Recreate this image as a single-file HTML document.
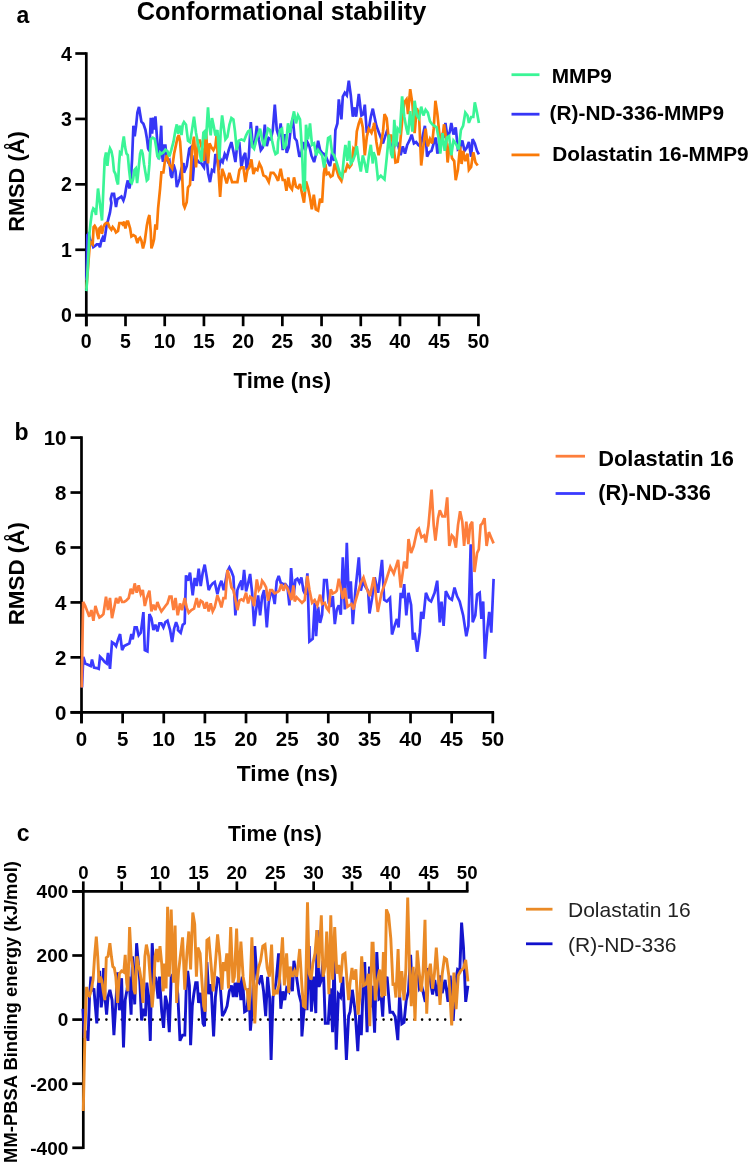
<!DOCTYPE html>
<html><head><meta charset="utf-8"><style>html,body{margin:0;padding:0;background:#fff;width:749px;height:1165px;overflow:hidden}svg{display:block;will-change:transform}</style></head>
<body><svg width="749" height="1165" viewBox="0 0 749 1165"><text x="16.5" y="22.5" font-family="Liberation Sans, sans-serif" font-weight="bold" font-size="23" text-anchor="start" >a</text><text x="281.6" y="20" font-family="Liberation Sans, sans-serif" font-weight="bold" font-size="25.3" text-anchor="middle" >Conformational stability</text><line x1="86.3" y1="52.2" x2="86.3" y2="326.2" stroke="#000" stroke-width="2.7"/><line x1="75.3" y1="315.2" x2="479.7" y2="315.2" stroke="#000" stroke-width="2.7"/><line x1="75.3" y1="315.2" x2="86.3" y2="315.2" stroke="#000" stroke-width="2.7"/><text x="71.8" y="322.2" font-family="Liberation Sans, sans-serif" font-weight="bold" font-size="19.5" text-anchor="end" >0</text><line x1="75.3" y1="249.77499999999998" x2="86.3" y2="249.77499999999998" stroke="#000" stroke-width="2.7"/><text x="71.8" y="256.775" font-family="Liberation Sans, sans-serif" font-weight="bold" font-size="19.5" text-anchor="end" >1</text><line x1="75.3" y1="184.35" x2="86.3" y2="184.35" stroke="#000" stroke-width="2.7"/><text x="71.8" y="191.35" font-family="Liberation Sans, sans-serif" font-weight="bold" font-size="19.5" text-anchor="end" >2</text><line x1="75.3" y1="118.92500000000001" x2="86.3" y2="118.92500000000001" stroke="#000" stroke-width="2.7"/><text x="71.8" y="125.92500000000001" font-family="Liberation Sans, sans-serif" font-weight="bold" font-size="19.5" text-anchor="end" >3</text><line x1="75.3" y1="53.5" x2="86.3" y2="53.5" stroke="#000" stroke-width="2.7"/><text x="71.8" y="60.5" font-family="Liberation Sans, sans-serif" font-weight="bold" font-size="19.5" text-anchor="end" >4</text><line x1="86.3" y1="315.2" x2="86.3" y2="326.2" stroke="#000" stroke-width="2.7"/><text x="86.3" y="347.8" font-family="Liberation Sans, sans-serif" font-weight="bold" font-size="19.5" text-anchor="middle" >0</text><line x1="125.50999999999999" y1="315.2" x2="125.50999999999999" y2="326.2" stroke="#000" stroke-width="2.7"/><text x="125.50999999999999" y="347.8" font-family="Liberation Sans, sans-serif" font-weight="bold" font-size="19.5" text-anchor="middle" >5</text><line x1="164.71999999999997" y1="315.2" x2="164.71999999999997" y2="326.2" stroke="#000" stroke-width="2.7"/><text x="164.71999999999997" y="347.8" font-family="Liberation Sans, sans-serif" font-weight="bold" font-size="19.5" text-anchor="middle" >10</text><line x1="203.92999999999998" y1="315.2" x2="203.92999999999998" y2="326.2" stroke="#000" stroke-width="2.7"/><text x="203.92999999999998" y="347.8" font-family="Liberation Sans, sans-serif" font-weight="bold" font-size="19.5" text-anchor="middle" >15</text><line x1="243.14" y1="315.2" x2="243.14" y2="326.2" stroke="#000" stroke-width="2.7"/><text x="243.14" y="347.8" font-family="Liberation Sans, sans-serif" font-weight="bold" font-size="19.5" text-anchor="middle" >20</text><line x1="282.35" y1="315.2" x2="282.35" y2="326.2" stroke="#000" stroke-width="2.7"/><text x="282.35" y="347.8" font-family="Liberation Sans, sans-serif" font-weight="bold" font-size="19.5" text-anchor="middle" >25</text><line x1="321.55999999999995" y1="315.2" x2="321.55999999999995" y2="326.2" stroke="#000" stroke-width="2.7"/><text x="321.55999999999995" y="347.8" font-family="Liberation Sans, sans-serif" font-weight="bold" font-size="19.5" text-anchor="middle" >30</text><line x1="360.77" y1="315.2" x2="360.77" y2="326.2" stroke="#000" stroke-width="2.7"/><text x="360.77" y="347.8" font-family="Liberation Sans, sans-serif" font-weight="bold" font-size="19.5" text-anchor="middle" >35</text><line x1="399.97999999999996" y1="315.2" x2="399.97999999999996" y2="326.2" stroke="#000" stroke-width="2.7"/><text x="399.97999999999996" y="347.8" font-family="Liberation Sans, sans-serif" font-weight="bold" font-size="19.5" text-anchor="middle" >40</text><line x1="439.19" y1="315.2" x2="439.19" y2="326.2" stroke="#000" stroke-width="2.7"/><text x="439.19" y="347.8" font-family="Liberation Sans, sans-serif" font-weight="bold" font-size="19.5" text-anchor="middle" >45</text><line x1="478.40000000000003" y1="315.2" x2="478.40000000000003" y2="326.2" stroke="#000" stroke-width="2.7"/><text x="478.40000000000003" y="347.8" font-family="Liberation Sans, sans-serif" font-weight="bold" font-size="19.5" text-anchor="middle" >50</text><text x="282.3" y="388" font-family="Liberation Sans, sans-serif" font-weight="bold" font-size="22" text-anchor="middle" >Time (ns)</text><polyline points="86.4,280.4 87.3,235.1 88.7,233.7 90.0,239.1 92.0,243.1 93.3,247.1 95.3,245.7 96.7,244.4 98.7,244.4 100.0,247.1 101.4,240.4 102.7,237.7 104.0,241.7 105.4,233.7 106.7,224.4 108.0,220.4 110.0,212.4 111.4,203.0 110.7,199.1 112.0,193.8 114.0,193.8 116.0,207.1 117.4,199.1 119.4,197.8 121.4,196.5 123.4,200.5 124.7,196.5 126.5,185.8 127.8,180.4 129.4,188.5 130.7,181.8 132.1,159.1 133.4,125.7 134.7,136.4 136.1,125.7 137.4,112.4 139.0,107.0 140.1,113.7 141.4,121.7 143.4,123.7 145.4,129.7 146.8,137.7 148.1,148.4 149.4,151.1 150.8,117.7 152.1,133.7 153.4,117.7 154.8,129.7 155.4,116.4 156.8,135.1 158.1,155.1 159.0,159.1 160.1,144.4 161.2,125.7 162.1,155.1 163.0,161.8 164.1,145.7 165.4,145.7 166.8,159.1 168.1,161.8 169.4,160.4 170.8,175.1 172.1,177.8 173.5,164.4 175.5,171.1 176.8,187.1 178.1,183.1 179.5,179.1 181.5,168.4 183.5,163.1 184.0,172.8 186.7,166.1 189.3,148.7 190.7,147.4 192.7,180.8 194.7,155.4 196.7,159.4 198.7,162.1 201.4,163.4 204.0,167.4 206.0,150.1 208.0,172.8 210.0,182.1 212.0,170.1 214.0,171.4 215.4,154.1 216.7,156.8 218.7,170.1 220.7,159.4 222.7,162.1 224.7,154.1 226.7,158.1 228.7,150.1 231.4,142.1 233.4,151.4 235.4,162.1 237.4,143.4 239.4,143.4 241.4,167.4 243.4,156.8 245.2,152.8 246.8,170.1 248.8,156.8 250.8,122.0 252.8,146.1 254.8,144.7 256.8,126.0 258.8,139.4 260.8,150.1 262.8,147.4 264.8,124.7 266.8,146.1 268.8,138.1 270.8,139.4 272.8,130.1 274.8,104.7 276.8,130.1 278.8,136.7 280.7,123.4 282.7,150.1 284.7,134.1 286.7,152.8 288.7,147.4 290.7,128.7 292.7,118.1 294.7,138.1 296.7,140.8 299.4,156.8 301.4,152.8 303.4,142.1 305.4,150.1 307.4,142.1 309.4,146.1 311.4,155.4 314.1,162.1 316.1,154.1 318.1,140.8 320.1,150.1 322.1,152.8 324.1,154.1 326.1,156.8 328.1,162.1 330.1,166.1 332.1,152.8 334.1,160.8 335.4,130.1 337.4,123.4 338.8,99.4 340.1,110.1 341.4,119.4 342.8,96.7 344.8,92.7 346.8,95.4 348.8,80.7 350.8,95.4 352.8,116.7 354.8,107.4 356.1,116.7 358.8,94.0 361.4,115.4 363.4,114.1 364.8,104.7 366.8,132.8 368.8,128.7 370.8,116.7 372.8,108.7 374.2,115.5 376.4,125.8 378.6,131.7 380.8,137.6 383.0,143.4 385.2,136.1 386.7,131.7 388.9,136.1 391.1,146.4 393.3,152.2 395.5,139.0 397.7,143.4 400.6,155.2 402.8,146.4 405.0,153.7 407.2,144.9 409.5,140.5 411.7,134.6 413.9,143.4 416.1,142.0 418.3,144.9 420.5,146.4 422.7,136.1 424.9,125.8 427.1,156.7 429.3,152.2 431.5,150.8 433.7,143.4 435.9,137.6 437.4,153.7 439.6,142.0 441.8,134.6 444.0,136.1 445.4,122.9 447.6,137.6 449.8,131.7 451.3,122.9 453.5,134.6 455.7,127.3 457.9,149.3 460.1,147.8 462.3,140.5 464.5,150.8 466.7,147.8 468.9,142.0 471.1,156.7 472.6,139.0 474.8,143.4 477.0,150.8 478.9,154.4" fill="none" stroke="#3636f6" stroke-width="2.7" stroke-linejoin="miter" stroke-miterlimit="3"/><polyline points="86.4,288.5 90.0,241.7 91.3,243.1 92.7,244.4 93.6,227.0 94.7,225.7 96.3,228.4 97.4,235.1 98.4,239.1 99.4,228.4 100.7,227.0 102.0,233.7 103.4,227.0 104.7,224.4 106.0,223.0 108.0,223.0 109.4,227.0 111.4,229.7 112.7,227.0 114.7,229.7 116.0,232.4 118.0,231.0 119.4,223.0 121.4,223.0 122.7,224.4 124.1,221.7 125.4,228.4 127.0,221.7 128.1,221.7 130.1,228.4 131.4,236.4 133.4,235.1 135.4,236.4 137.4,243.1 138.7,239.1 140.1,237.7 141.4,240.4 143.0,248.4 144.7,241.7 146.8,225.7 148.1,219.0 149.4,215.0 150.8,232.4 151.4,248.4 152.8,244.4 154.1,239.1 155.4,224.4 156.8,229.7 158.1,208.4 160.1,188.5 161.4,172.4 163.4,172.4 164.8,161.8 166.8,155.1 169.4,164.4 172.1,168.4 174.1,153.7 176.1,144.4 177.5,137.7 178.8,135.1 180.1,141.7 181.5,161.8 183.5,204.5 184.7,207.5 186.7,202.1 188.0,187.5 190.0,184.8 192.0,150.1 194.0,136.7 196.0,167.4 198.0,140.7 200.0,140.7 202.0,148.7 204.0,160.8 206.0,130.1 208.0,163.4 209.6,143.4 211.4,147.4 213.4,150.1 215.4,146.1 216.7,134.1 218.1,164.8 220.1,196.8 222.1,168.8 224.1,174.1 226.7,183.5 229.4,172.8 232.1,182.1 234.7,182.1 237.4,182.1 239.4,170.1 241.4,167.4 243.4,167.4 245.4,182.1 247.4,170.1 249.4,167.4 251.4,159.4 253.4,174.1 255.4,168.8 257.4,170.1 259.4,163.4 261.4,167.4 263.4,175.4 266.1,176.8 268.8,182.1 270.8,172.8 273.5,172.8 275.5,175.4 278.1,180.8 280.7,168.7 282.7,180.0 284.7,180.0 286.4,190.7 288.3,177.4 290.0,186.7 292.0,189.4 294.0,177.4 296.0,186.7 298.0,188.0 300.0,184.0 302.0,193.4 304.0,202.7 306.0,181.4 308.0,188.0 310.0,197.4 311.8,209.4 313.8,194.7 315.8,209.4 318.1,210.7 320.1,198.7 322.1,202.7 323.8,173.4 325.4,164.0 326.7,174.1 328.7,172.8 330.7,176.8 332.7,175.5 334.7,163.5 336.7,170.1 338.8,176.8 341.4,180.8 343.4,171.5 345.4,171.5 347.4,164.8 349.4,167.5 351.4,164.8 353.4,148.8 355.4,151.4 356.8,131.4 358.8,123.4 360.8,118.1 362.8,127.4 364.8,155.4 366.8,136.8 368.8,128.7 371.5,132.8 373.5,126.1 374.2,122.9 376.4,142.0 378.6,155.2 380.8,144.9 383.0,131.7 384.5,114.1 386.7,118.5 388.9,142.0 391.1,134.6 393.3,144.9 395.5,162.5 397.7,161.8 399.9,146.4 402.1,121.4 404.3,102.3 406.5,99.4 408.0,114.1 410.2,89.1 412.4,103.8 414.6,133.2 416.8,108.2 419.0,114.1 421.2,165.5 423.4,146.4 425.6,128.7 427.8,146.4 430.0,139.0 432.2,143.4 433.7,128.7 435.4,100.8 437.4,114.1 439.6,136.1 441.8,143.4 444.0,124.3 446.2,139.0 447.6,162.5 449.8,143.4 452.0,158.1 454.2,161.1 455.7,180.1 457.9,169.9 460.1,146.4 461.6,164.0 463.1,150.8 465.3,161.1 467.5,153.7 468.9,169.9 471.1,166.9 473.3,152.2 475.5,162.5 477.7,165.5" fill="none" stroke="#fa7a08" stroke-width="2.7" stroke-linejoin="miter" stroke-miterlimit="3"/><polyline points="86.4,291.1 88.0,264.4 89.3,235.1 90.7,221.7 92.0,212.4 93.3,208.4 94.7,209.7 96.0,215.0 97.4,196.5 98.0,188.5 99.4,199.1 100.7,209.8 102.0,220.5 103.4,188.5 104.7,159.1 106.0,152.4 107.4,165.8 108.7,153.7 110.0,148.4 111.4,151.1 112.7,157.8 114.0,171.1 115.4,173.8 116.7,180.4 118.0,184.5 119.0,164.4 120.0,152.4 121.4,153.7 122.7,143.1 123.8,136.4 125.1,147.1 126.5,153.7 127.8,155.1 129.1,169.8 130.5,181.8 131.8,183.1 133.1,179.1 134.5,169.8 135.8,168.4 137.1,183.1 138.5,169.8 140.1,153.7 141.4,149.7 142.7,153.7 144.1,164.4 145.4,172.4 146.8,180.4 148.1,179.1 149.4,164.4 150.8,139.1 152.8,137.7 154.8,139.1 156.1,147.1 157.4,156.4 158.8,157.8 160.1,152.4 161.4,153.7 163.4,152.4 165.4,149.7 167.4,151.1 169.4,156.4 171.4,149.7 173.5,141.7 175.5,129.7 176.8,124.4 178.1,133.7 180.1,125.7 181.5,135.1 182.8,124.4 184.0,122.0 186.0,124.7 188.0,140.7 190.0,142.1 192.0,130.1 194.0,116.7 196.0,132.7 198.0,143.4 200.0,154.1 201.4,162.1 203.4,132.7 204.7,131.4 206.0,139.4 208.0,107.4 209.4,126.0 210.7,135.4 212.0,118.0 214.0,127.4 215.4,135.4 217.4,130.1 219.4,159.4 220.7,131.4 222.1,115.4 223.4,124.7 225.4,139.4 227.4,136.7 229.4,124.7 231.4,118.0 233.4,119.4 235.0,131.4 236.7,150.1 238.7,140.7 241.4,139.4 244.1,140.7 246.1,135.4 248.1,131.4 250.1,130.1 252.1,146.1 254.1,148.7 256.1,140.7 258.1,134.1 260.1,128.7 262.1,139.4 264.1,146.1 266.1,136.7 268.1,128.7 270.1,130.1 272.1,140.7 274.1,150.1 275.5,154.1 277.5,152.8 278.0,142.1 280.0,130.1 282.0,128.7 284.0,148.8 286.0,144.8 288.0,123.4 290.0,132.8 292.0,120.7 294.0,111.4 296.0,123.4 298.0,115.4 300.0,119.4 302.0,150.1 303.4,187.5 304.7,191.5 306.0,124.7 308.0,139.4 310.0,123.4 312.0,144.8 314.1,143.4 316.1,155.4 318.1,150.1 320.1,152.8 322.1,155.4 324.1,167.5 326.1,155.4 328.1,138.1 330.1,136.8 332.1,152.8 334.1,155.4 336.1,160.8 338.1,167.5 340.1,174.1 342.1,176.8 344.1,155.4 345.4,144.8 347.4,160.8 349.2,140.8 350.8,163.5 352.8,160.8 354.8,155.4 356.8,146.1 358.8,160.8 360.8,171.5 362.8,155.4 364.8,163.5 366.8,172.8 368.8,156.8 370.8,144.8 372.8,163.5 373.5,152.2 375.7,158.1 377.9,178.7 380.8,175.7 384.5,179.4 386.7,158.1 388.9,134.6 391.1,153.7 392.6,158.1 394.3,119.9 396.2,146.4 397.7,128.7 399.9,131.7 402.1,96.4 404.3,117.0 406.5,128.7 408.0,134.6 410.2,111.1 412.4,131.7 414.6,100.8 416.8,115.5 419.0,118.5 421.2,106.7 423.4,115.5 425.6,109.7 427.8,112.6 430.0,121.4 432.2,124.3 434.4,125.8 436.6,127.3 438.8,139.0 440.3,153.7 442.5,133.2 444.7,150.8 446.9,137.6 449.1,136.1 451.3,155.2 453.5,140.5 455.7,143.4 458.7,149.3 460.9,130.2 463.1,125.8 465.3,112.6 467.5,115.5 468.9,122.9 471.1,117.0 473.3,117.0 474.8,102.3 477.0,112.6 478.9,122.9" fill="none" stroke="#3af596" stroke-width="2.7" stroke-linejoin="miter" stroke-miterlimit="3"/><text x="0" y="0" font-family="Liberation Sans, sans-serif" font-weight="bold" font-size="21.8" text-anchor="middle" transform="translate(24,181.6) rotate(-90)">RMSD (Å)</text><line x1="511.5" y1="74.7" x2="539.5" y2="74.7" stroke="#3af596" stroke-width="2.8"/><text x="551.8" y="83" font-family="Liberation Sans, sans-serif" font-weight="bold" font-size="20.8" text-anchor="start" >MMP9</text><line x1="511.5" y1="114.2" x2="539.5" y2="114.2" stroke="#3636f6" stroke-width="2.8"/><text x="549.6" y="120.3" font-family="Liberation Sans, sans-serif" font-weight="bold" font-size="20.8" text-anchor="start" >(R)-ND-336-MMP9</text><line x1="511.5" y1="154.9" x2="539.5" y2="154.9" stroke="#fa7a08" stroke-width="2.8"/><text x="552.2" y="161" font-family="Liberation Sans, sans-serif" font-weight="bold" font-size="20.8" text-anchor="start" >Dolastatin 16-MMP9</text><text x="14.5" y="440" font-family="Liberation Sans, sans-serif" font-weight="bold" font-size="23" text-anchor="start" >b</text><line x1="81.5" y1="436.3" x2="81.5" y2="723.3" stroke="#000" stroke-width="2.7"/><line x1="70.5" y1="712.3" x2="494.1" y2="712.3" stroke="#000" stroke-width="2.7"/><line x1="70.5" y1="712.3" x2="81.5" y2="712.3" stroke="#000" stroke-width="2.7"/><text x="66.5" y="719.5999999999999" font-family="Liberation Sans, sans-serif" font-weight="bold" font-size="20.5" text-anchor="end" >0</text><line x1="70.5" y1="657.36" x2="81.5" y2="657.36" stroke="#000" stroke-width="2.7"/><text x="66.5" y="664.66" font-family="Liberation Sans, sans-serif" font-weight="bold" font-size="20.5" text-anchor="end" >2</text><line x1="70.5" y1="602.42" x2="81.5" y2="602.42" stroke="#000" stroke-width="2.7"/><text x="66.5" y="609.7199999999999" font-family="Liberation Sans, sans-serif" font-weight="bold" font-size="20.5" text-anchor="end" >4</text><line x1="70.5" y1="547.48" x2="81.5" y2="547.48" stroke="#000" stroke-width="2.7"/><text x="66.5" y="554.78" font-family="Liberation Sans, sans-serif" font-weight="bold" font-size="20.5" text-anchor="end" >6</text><line x1="70.5" y1="492.54" x2="81.5" y2="492.54" stroke="#000" stroke-width="2.7"/><text x="66.5" y="499.84000000000003" font-family="Liberation Sans, sans-serif" font-weight="bold" font-size="20.5" text-anchor="end" >8</text><line x1="70.5" y1="437.6" x2="81.5" y2="437.6" stroke="#000" stroke-width="2.7"/><text x="66.5" y="444.90000000000003" font-family="Liberation Sans, sans-serif" font-weight="bold" font-size="20.5" text-anchor="end" >10</text><line x1="81.5" y1="712.3" x2="81.5" y2="723.3" stroke="#000" stroke-width="2.7"/><text x="81.5" y="746.2" font-family="Liberation Sans, sans-serif" font-weight="bold" font-size="20.5" text-anchor="middle" >0</text><line x1="122.63" y1="712.3" x2="122.63" y2="723.3" stroke="#000" stroke-width="2.7"/><text x="122.63" y="746.2" font-family="Liberation Sans, sans-serif" font-weight="bold" font-size="20.5" text-anchor="middle" >5</text><line x1="163.76" y1="712.3" x2="163.76" y2="723.3" stroke="#000" stroke-width="2.7"/><text x="163.76" y="746.2" font-family="Liberation Sans, sans-serif" font-weight="bold" font-size="20.5" text-anchor="middle" >10</text><line x1="204.89" y1="712.3" x2="204.89" y2="723.3" stroke="#000" stroke-width="2.7"/><text x="204.89" y="746.2" font-family="Liberation Sans, sans-serif" font-weight="bold" font-size="20.5" text-anchor="middle" >15</text><line x1="246.02" y1="712.3" x2="246.02" y2="723.3" stroke="#000" stroke-width="2.7"/><text x="246.02" y="746.2" font-family="Liberation Sans, sans-serif" font-weight="bold" font-size="20.5" text-anchor="middle" >20</text><line x1="287.15" y1="712.3" x2="287.15" y2="723.3" stroke="#000" stroke-width="2.7"/><text x="287.15" y="746.2" font-family="Liberation Sans, sans-serif" font-weight="bold" font-size="20.5" text-anchor="middle" >25</text><line x1="328.28" y1="712.3" x2="328.28" y2="723.3" stroke="#000" stroke-width="2.7"/><text x="328.28" y="746.2" font-family="Liberation Sans, sans-serif" font-weight="bold" font-size="20.5" text-anchor="middle" >30</text><line x1="369.41" y1="712.3" x2="369.41" y2="723.3" stroke="#000" stroke-width="2.7"/><text x="369.41" y="746.2" font-family="Liberation Sans, sans-serif" font-weight="bold" font-size="20.5" text-anchor="middle" >35</text><line x1="410.54" y1="712.3" x2="410.54" y2="723.3" stroke="#000" stroke-width="2.7"/><text x="410.54" y="746.2" font-family="Liberation Sans, sans-serif" font-weight="bold" font-size="20.5" text-anchor="middle" >40</text><line x1="451.67" y1="712.3" x2="451.67" y2="723.3" stroke="#000" stroke-width="2.7"/><text x="451.67" y="746.2" font-family="Liberation Sans, sans-serif" font-weight="bold" font-size="20.5" text-anchor="middle" >45</text><line x1="492.8" y1="712.3" x2="492.8" y2="723.3" stroke="#000" stroke-width="2.7"/><text x="492.8" y="746.2" font-family="Liberation Sans, sans-serif" font-weight="bold" font-size="20.5" text-anchor="middle" >50</text><text x="287.3" y="780.8" font-family="Liberation Sans, sans-serif" font-weight="bold" font-size="22.8" text-anchor="middle" >Time (ns)</text><polyline points="82.0,687.5 83.3,656.8 85.3,663.5 88.0,664.8 90.7,666.1 92.0,659.5 94.0,667.5 96.7,668.1 98.7,668.8 100.0,656.8 102.7,659.5 104.7,662.1 106.7,663.5 108.0,652.8 110.0,668.8 112.0,642.1 114.0,643.4 116.1,646.1 118.1,639.4 120.1,634.1 122.1,650.1 124.1,646.1 126.7,644.8 129.4,643.4 131.4,634.1 132.7,639.4 134.7,627.4 136.7,627.4 138.7,635.4 140.8,632.8 143.4,612.1 144.8,650.1 147.4,651.4 149.4,614.1 151.4,618.1 153.4,630.1 155.4,624.7 157.4,631.4 159.4,623.4 161.4,623.4 163.4,627.4 165.4,622.1 167.5,620.7 170.1,630.1 172.1,642.1 174.1,628.7 176.1,622.1 178.0,627.4 178.0,630.1 180.7,632.8 182.7,624.8 184.7,623.4 186.0,575.4 188.0,580.7 190.0,572.7 192.7,595.4 194.7,578.0 196.7,586.0 198.7,568.7 200.7,586.0 202.7,572.7 204.7,564.7 206.7,576.7 208.7,590.1 210.7,586.0 212.7,583.4 214.7,582.0 217.4,594.1 219.4,586.0 221.4,580.7 223.7,590.1 225.4,582.0 227.4,571.4 229.4,567.4 231.4,571.4 233.4,576.7 235.4,615.4 237.4,590.1 239.4,584.7 241.4,580.7 242.1,590.1 244.1,570.0 246.1,591.4 248.1,583.4 250.1,574.0 252.1,592.7 254.1,626.1 256.1,610.1 258.1,595.4 260.1,615.4 262.1,596.7 264.1,590.1 266.8,627.4 268.8,602.1 270.8,592.7 272.8,594.1 274.7,604.1 276.7,581.4 278.7,576.0 280.7,582.7 283.4,584.1 285.4,584.1 287.4,586.7 289.4,605.4 291.1,568.0 293.4,597.4 295.4,580.1 297.4,578.7 299.4,582.7 301.4,577.4 303.4,590.7 305.4,594.7 307.4,573.4 309.4,641.5 312.7,638.8 314.7,602.8 316.1,636.1 318.1,606.8 320.1,622.8 322.1,614.8 324.1,580.1 326.7,580.1 328.7,602.8 330.7,606.8 332.8,596.1 334.8,624.1 336.8,609.4 338.8,605.4 340.8,614.8 342.8,557.4 344.8,609.4 346.8,542.7 348.8,598.7 350.8,581.4 352.8,624.1 355.4,590.7 358.8,557.4 360.8,590.7 362.8,581.4 365.5,586.7 368.1,590.7 369.5,613.4 369.5,613.6 372.1,598.0 374.7,577.2 378.1,592.8 382.0,559.8 384.2,599.8 386.8,601.5 390.0,598.0 392.0,634.5 394.6,625.8 396.9,618.9 398.6,627.5 400.7,592.8 402.4,598.0 404.2,584.1 406.3,615.4 408.5,592.8 411.1,605.0 412.9,639.7 414.6,632.7 417.2,651.8 419.8,632.7 421.2,611.9 423.3,618.9 425.9,592.8 428.8,599.8 431.1,601.5 434.6,592.8 437.2,580.7 439.8,622.3 441.5,601.5 443.6,625.8 445.8,591.1 449.3,598.0 451.9,599.8 454.5,587.6 457.1,596.3 459.7,601.5 463.2,615.4 466.3,636.2 468.4,625.8 470.7,544.2 472.7,622.3 475.3,615.4 477.1,594.6 479.7,592.8 481.4,618.9 483.2,601.5 484.9,658.8 487.5,627.5 489.2,611.9 491.3,632.7 493.6,578.9" fill="none" stroke="#3a3aff" stroke-width="2.7" stroke-linejoin="miter" stroke-miterlimit="3"/><polyline points="81.7,687.5 83.1,602.0 85.3,606.0 87.3,611.4 89.3,616.7 91.4,610.1 93.4,620.7 95.4,606.0 97.4,612.7 99.4,617.4 101.4,616.1 103.4,614.1 106.0,596.7 108.0,610.1 110.0,598.0 112.0,618.1 114.0,608.7 116.1,598.0 118.1,603.4 120.1,596.7 122.1,602.0 124.1,602.0 126.1,600.7 128.7,598.0 130.7,588.7 132.7,594.0 134.7,583.4 136.7,592.7 138.7,585.4 140.8,594.0 142.8,590.0 144.8,606.0 146.8,598.0 149.4,590.7 151.4,611.4 153.4,604.7 155.4,610.1 157.4,602.0 159.4,607.4 161.4,611.4 163.4,608.7 165.4,606.0 167.5,603.4 169.5,596.7 171.5,596.7 173.5,610.1 175.5,598.0 177.5,614.1 178.0,614.1 180.0,603.4 182.0,610.1 184.7,598.1 186.7,607.4 188.7,612.8 191.4,610.1 194.0,608.7 196.7,598.1 198.7,607.4 200.7,600.7 202.7,602.1 204.7,608.7 206.7,602.1 208.7,611.4 210.7,603.4 212.7,611.4 214.7,607.4 217.4,595.4 219.4,600.7 221.4,607.4 223.4,598.1 225.4,598.1 227.4,570.0 229.4,576.7 231.4,587.4 233.4,590.1 235.4,599.4 237.4,610.1 239.4,600.7 241.4,599.4 243.4,600.7 246.1,592.7 248.1,603.4 250.1,596.7 252.1,598.1 254.1,606.1 256.8,579.4 258.8,590.1 260.8,587.4 262.1,580.7 264.1,583.4 266.1,587.4 268.1,600.7 270.1,590.1 272.1,590.1 274.0,592.7 274.7,593.4 277.3,592.1 279.3,590.7 281.3,584.1 283.4,590.7 285.4,585.4 287.4,588.1 289.4,593.4 291.4,600.1 293.4,585.4 294.7,601.4 296.7,597.4 299.4,600.1 302.0,602.8 304.7,600.1 307.4,576.0 309.4,589.4 312.1,602.8 314.7,600.1 317.4,605.4 320.1,594.7 322.1,604.1 324.7,602.8 326.7,608.1 328.7,610.8 330.7,589.4 332.8,593.4 335.4,592.1 336.8,590.7 338.8,578.7 340.8,588.1 342.8,598.7 344.8,588.1 347.4,606.8 349.4,605.4 351.4,604.1 353.4,609.4 355.4,601.4 358.1,592.1 360.8,582.7 363.5,577.4 365.5,584.1 367.5,590.7 370.0,596.1 373.8,577.2 377.8,611.9 381.6,592.8 386.0,580.7 390.3,566.8 393.8,573.7 398.1,559.8 400.7,587.6 404.2,561.6 406.8,568.5 408.5,539.0 411.1,552.9 413.7,546.0 417.2,530.3 418.9,528.6 421.5,537.3 424.1,535.5 425.9,542.5 428.5,525.1 431.6,489.5 433.7,525.1 435.4,540.7 438.0,518.2 439.8,510.4 442.4,516.4 445.0,516.4 447.2,497.4 449.3,546.0 451.9,535.5 453.7,537.3 455.9,547.7 458.0,525.1 460.1,511.2 462.3,521.7 464.1,546.0 466.3,521.7 468.4,544.2 470.1,525.1 472.2,521.7 474.5,572.0 477.1,552.9 478.8,549.4 480.6,525.1 482.3,523.4 484.5,518.2 486.6,546.0 488.9,532.1 491.0,537.3 493.6,543.4" fill="none" stroke="#fd7e3c" stroke-width="2.7" stroke-linejoin="miter" stroke-miterlimit="3"/><text x="0" y="0" font-family="Liberation Sans, sans-serif" font-weight="bold" font-size="22.4" text-anchor="middle" transform="translate(23.5,573.7) rotate(-90)">RMSD (Å)</text><line x1="555.6" y1="456.2" x2="585" y2="456.2" stroke="#fd7e3c" stroke-width="2.8"/><text x="598.3" y="466.3" font-family="Liberation Sans, sans-serif" font-weight="bold" font-size="21.8" text-anchor="start" >Dolastatin 16</text><line x1="555.6" y1="493.5" x2="585" y2="493.5" stroke="#3a3aff" stroke-width="2.8"/><text x="598.3" y="499.6" font-family="Liberation Sans, sans-serif" font-weight="bold" font-size="21.8" text-anchor="start" >(R)-ND-336</text><text x="16.8" y="840.8" font-family="Liberation Sans, sans-serif" font-weight="bold" font-size="23" text-anchor="start" >c</text><line x1="83.3" y1="1019.6" x2="467.2" y2="1019.6" stroke="#000" stroke-width="2.6" stroke-linecap="round" stroke-dasharray="0 7.7"/><line x1="83.3" y1="890.1" x2="83.3" y2="1149.1" stroke="#000" stroke-width="2.7"/><line x1="72.3" y1="891.4" x2="468.5" y2="891.4" stroke="#000" stroke-width="2.7"/><line x1="72.3" y1="891.4" x2="83.3" y2="891.4" stroke="#000" stroke-width="2.7"/><text x="68.3" y="898.1999999999999" font-family="Liberation Sans, sans-serif" font-weight="bold" font-size="19" text-anchor="end" >400</text><line x1="72.3" y1="955.5" x2="83.3" y2="955.5" stroke="#000" stroke-width="2.7"/><text x="68.3" y="962.3" font-family="Liberation Sans, sans-serif" font-weight="bold" font-size="19" text-anchor="end" >200</text><line x1="72.3" y1="1019.6" x2="83.3" y2="1019.6" stroke="#000" stroke-width="2.7"/><text x="68.3" y="1026.4" font-family="Liberation Sans, sans-serif" font-weight="bold" font-size="19" text-anchor="end" >0</text><line x1="72.3" y1="1083.7" x2="83.3" y2="1083.7" stroke="#000" stroke-width="2.7"/><text x="68.3" y="1090.5" font-family="Liberation Sans, sans-serif" font-weight="bold" font-size="19" text-anchor="end" >-200</text><line x1="72.3" y1="1147.8000000000002" x2="83.3" y2="1147.8000000000002" stroke="#000" stroke-width="2.7"/><text x="68.3" y="1154.6000000000001" font-family="Liberation Sans, sans-serif" font-weight="bold" font-size="19" text-anchor="end" >-400</text><line x1="83.3" y1="891.4" x2="83.3" y2="881.4" stroke="#000" stroke-width="2.7"/><text x="83.3" y="879" font-family="Liberation Sans, sans-serif" font-weight="bold" font-size="18.6" text-anchor="middle" >0</text><line x1="121.69" y1="891.4" x2="121.69" y2="881.4" stroke="#000" stroke-width="2.7"/><text x="121.69" y="879" font-family="Liberation Sans, sans-serif" font-weight="bold" font-size="18.6" text-anchor="middle" >5</text><line x1="160.07999999999998" y1="891.4" x2="160.07999999999998" y2="881.4" stroke="#000" stroke-width="2.7"/><text x="160.07999999999998" y="879" font-family="Liberation Sans, sans-serif" font-weight="bold" font-size="18.6" text-anchor="middle" >10</text><line x1="198.47" y1="891.4" x2="198.47" y2="881.4" stroke="#000" stroke-width="2.7"/><text x="198.47" y="879" font-family="Liberation Sans, sans-serif" font-weight="bold" font-size="18.6" text-anchor="middle" >15</text><line x1="236.86" y1="891.4" x2="236.86" y2="881.4" stroke="#000" stroke-width="2.7"/><text x="236.86" y="879" font-family="Liberation Sans, sans-serif" font-weight="bold" font-size="18.6" text-anchor="middle" >20</text><line x1="275.25" y1="891.4" x2="275.25" y2="881.4" stroke="#000" stroke-width="2.7"/><text x="275.25" y="879" font-family="Liberation Sans, sans-serif" font-weight="bold" font-size="18.6" text-anchor="middle" >25</text><line x1="313.64" y1="891.4" x2="313.64" y2="881.4" stroke="#000" stroke-width="2.7"/><text x="313.64" y="879" font-family="Liberation Sans, sans-serif" font-weight="bold" font-size="18.6" text-anchor="middle" >30</text><line x1="352.03000000000003" y1="891.4" x2="352.03000000000003" y2="881.4" stroke="#000" stroke-width="2.7"/><text x="352.03000000000003" y="879" font-family="Liberation Sans, sans-serif" font-weight="bold" font-size="18.6" text-anchor="middle" >35</text><line x1="390.42" y1="891.4" x2="390.42" y2="881.4" stroke="#000" stroke-width="2.7"/><text x="390.42" y="879" font-family="Liberation Sans, sans-serif" font-weight="bold" font-size="18.6" text-anchor="middle" >40</text><line x1="428.81" y1="891.4" x2="428.81" y2="881.4" stroke="#000" stroke-width="2.7"/><text x="428.81" y="879" font-family="Liberation Sans, sans-serif" font-weight="bold" font-size="18.6" text-anchor="middle" >45</text><line x1="467.2" y1="891.4" x2="467.2" y2="881.4" stroke="#000" stroke-width="2.7"/><text x="467.2" y="879" font-family="Liberation Sans, sans-serif" font-weight="bold" font-size="18.6" text-anchor="middle" >50</text><text x="274.9" y="840.5" font-family="Liberation Sans, sans-serif" font-weight="bold" font-size="21.2" text-anchor="middle" >Time (ns)</text><polyline points="82.9,1008.8 84.4,1038.0 86.6,1030.7 88.0,1040.9 89.5,997.1 90.9,976.7 92.4,991.3 93.9,988.4 95.3,1005.9 96.8,1023.4 98.2,986.9 99.7,970.9 101.2,1007.4 102.6,997.1 103.6,968.0 105.1,998.6 106.6,1014.7 108.0,997.1 109.9,989.8 112.1,1000.1 113.9,1035.1 115.8,1004.4 117.6,972.3 119.4,1010.3 121.6,978.2 123.5,1047.5 125.2,1000.1 127.0,989.8 128.9,976.7 131.1,1014.7 132.5,956.3 134.7,1004.4 136.6,943.2 138.1,960.7 139.8,981.1 141.6,1020.5 143.5,1008.8 145.4,1016.1 146.8,982.6 148.6,998.6 150.3,1040.9 152.2,943.2 154.1,976.7 155.9,978.2 158.1,998.6 159.5,976.7 161.7,1011.7 163.6,1027.8 165.4,995.7 167.3,1004.4 169.3,1032.2 171.2,976.7 173.4,973.8 175.6,976.7 177.8,994.2 180.0,1040.9 180.4,1039.5 182.6,1035.1 184.8,1035.1 186.2,989.8 187.7,970.9 189.4,985.5 190.6,1045.3 192.3,1005.9 193.8,994.2 195.7,982.6 197.2,982.6 198.6,1003.0 200.8,992.8 203.0,1023.4 204.5,1026.3 206.9,962.1 208.8,994.2 211.0,984.0 213.6,1036.5 215.4,997.1 217.6,978.2 219.8,979.6 222.4,1016.1 224.9,1011.7 227.1,1005.9 229.3,991.3 231.5,985.5 233.3,997.1 235.1,982.6 236.6,997.1 238.7,976.7 240.9,1000.1 242.4,976.7 244.6,1011.7 246.8,1010.3 249.0,988.4 250.4,1030.7 252.2,1008.8 254.8,946.1 257.0,979.6 259.2,982.6 261.4,975.3 263.6,991.3 265.7,1016.1 267.6,976.7 269.7,998.6 271.1,1059.9 273.0,997.1 276.0,982.6 278.6,953.4 280.8,1008.8 282.9,991.3 284.8,1000.1 286.6,988.4 288.8,991.3 290.2,976.7 292.4,991.3 293.9,960.7 296.1,973.8 299.0,994.2 301.2,1003.0 301.9,1036.5 304.1,1008.8 307.0,1008.8 309.2,946.1 311.4,1011.7 313.6,976.7 315.8,1013.2 317.2,930.0 319.0,986.9 320.9,981.1 323.1,960.7 325.3,1023.4 328.2,1023.4 330.4,988.4 332.6,1032.2 334.0,956.3 336.2,1049.7 338.4,994.2 340.6,997.1 342.8,976.7 346.4,1059.9 348.6,1016.1 350.1,1011.7 352.3,989.8 355.2,1011.7 357.8,1051.1 359.6,1014.7 361.3,1035.1 363.2,985.5 364.7,962.1 367.1,1032.2 369.5,966.5 372.0,1007.4 372.4,985.7 374.6,1032.7 376.8,952.0 379.0,999.0 381.2,997.5 382.7,1016.6 384.2,981.3 387.1,976.9 390.0,1012.2 392.7,1012.2 395.2,1016.6 397.8,1040.1 399.6,994.6 401.8,1023.9 404.0,1022.5 406.2,1000.4 408.4,991.6 410.6,954.9 412.8,1001.9 415.0,975.5 417.2,968.1 419.4,988.7 421.6,985.7 425.3,1001.9 428.2,968.1 430.4,981.3 432.6,994.6 434.8,979.9 437.0,996.0 440.0,975.5 442.2,993.1 445.1,979.9 448.0,1001.9 450.2,975.5 453.2,1021.0 455.4,982.8 457.6,969.6 459.8,971.1 461.6,922.6 463.5,947.6 465.7,1001.9 467.9,985.7" fill="none" stroke="#1414cc" stroke-width="2.9" stroke-linejoin="miter" stroke-miterlimit="3"/><polyline points="83.3,1111.0 85.1,1026.3 86.6,986.9 88.0,994.2 89.5,995.7 90.9,991.3 93.1,979.6 94.6,956.3 96.3,936.6 97.8,957.7 99.0,982.6 100.4,976.7 101.9,981.1 103.3,991.3 104.8,1000.1 106.3,957.7 108.0,956.3 109.9,943.2 111.4,956.3 112.8,966.5 114.3,968.0 115.8,976.7 117.6,1003.0 119.4,973.8 121.6,970.9 123.8,972.3 125.2,954.8 126.7,982.6 127.9,991.3 129.6,927.1 131.1,956.3 132.5,966.5 134.0,989.8 135.2,994.2 136.9,956.3 138.4,965.0 139.8,970.9 141.3,981.1 143.0,1003.0 144.9,956.3 146.4,944.6 148.6,956.3 150.8,985.5 152.2,1007.4 153.7,988.4 155.1,956.3 156.6,949.0 158.1,962.1 160.0,946.1 161.7,963.6 163.2,991.3 164.6,963.6 166.1,988.4 167.6,906.7 169.3,976.7 171.2,909.6 173.4,982.6 175.1,925.6 176.6,1003.0 178.5,972.3 180.0,959.2 182.6,937.3 184.8,989.8 186.9,953.4 188.8,931.5 190.6,969.4 192.8,912.5 194.7,924.2 196.4,976.7 197.9,947.5 200.1,953.4 202.0,982.6 203.7,1005.9 205.2,1011.7 206.9,940.2 208.8,938.8 211.0,963.6 213.2,991.3 215.4,963.6 217.6,934.4 219.8,956.3 222.0,989.8 223.4,962.1 224.9,970.9 226.8,953.4 228.5,988.4 230.7,927.1 232.9,982.6 234.4,976.7 236.6,928.6 238.5,982.6 240.9,941.7 243.1,976.7 245.3,988.4 247.2,989.8 249.0,1010.3 250.4,979.6 251.9,937.3 253.6,988.4 254.8,1023.4 256.5,985.5 258.4,968.0 260.6,960.7 262.8,946.1 265.0,944.6 267.2,968.0 269.4,976.7 271.6,944.6 273.5,995.7 276.0,989.8 277.1,994.2 279.3,982.6 282.5,937.3 284.4,985.5 286.6,953.4 288.8,992.8 290.2,966.5 292.4,976.7 294.6,970.9 296.8,976.7 299.7,949.0 301.9,985.5 303.4,1005.9 305.3,1007.4 307.5,902.3 309.2,973.8 311.1,979.6 312.9,963.6 315.0,953.4 316.9,930.0 318.7,968.0 321.3,915.4 323.1,976.7 325.3,965.0 326.7,931.5 328.9,994.2 330.8,915.4 332.6,979.6 334.7,927.1 336.9,973.8 338.8,965.0 340.6,982.6 342.8,954.8 345.0,953.4 347.1,982.6 348.6,1000.1 350.1,982.6 352.0,968.0 353.7,979.6 355.9,969.4 358.1,1014.7 359.8,997.1 361.7,956.3 363.6,985.5 366.1,984.0 368.3,973.8 369.8,1026.3 372.0,943.2 373.1,943.2 375.3,1000.4 377.5,979.9 379.7,969.6 382.0,997.5 383.4,952.0 384.9,996.0 386.4,909.4 388.6,915.2 390.8,938.7 393.0,985.7 394.4,982.8 395.9,997.5 398.1,949.0 399.6,997.5 401.8,971.1 404.0,1000.4 405.9,968.1 407.7,897.6 409.6,968.1 411.3,1006.3 413.2,966.7 415.0,1021.0 417.2,950.5 419.4,974.0 421.2,991.6 423.1,971.1 425.0,919.7 426.7,1013.6 428.5,974.0 430.4,963.7 432.6,988.7 434.4,974.0 436.3,947.6 438.2,975.5 440.0,1004.8 442.2,974.0 444.4,957.8 446.6,959.3 448.8,975.5 451.7,1025.4 453.9,972.5 456.1,1009.2 458.3,975.5 460.5,971.1 463.5,968.1 465.7,960.0 467.9,981.3" fill="none" stroke="#ea8a26" stroke-width="2.9" stroke-linejoin="miter" stroke-miterlimit="3"/><text x="0" y="0" font-family="Liberation Sans, sans-serif" font-weight="bold" font-size="18.4" text-anchor="middle" transform="translate(17.2,1012) rotate(-90)">MM-PBSA Binding energy (kJ/mol)</text><line x1="526" y1="909.2" x2="552.5" y2="909.2" stroke="#ea8a26" stroke-width="2.8"/><text x="568" y="917.2" font-family="Liberation Sans, sans-serif" font-size="21" text-anchor="start" fill="#222">Dolastatin 16</text><line x1="526" y1="943.8" x2="552.5" y2="943.8" stroke="#1010cc" stroke-width="2.8"/><text x="568" y="951.8" font-family="Liberation Sans, sans-serif" font-size="21" text-anchor="start" fill="#222">(R)-ND-336</text></svg></body></html>
